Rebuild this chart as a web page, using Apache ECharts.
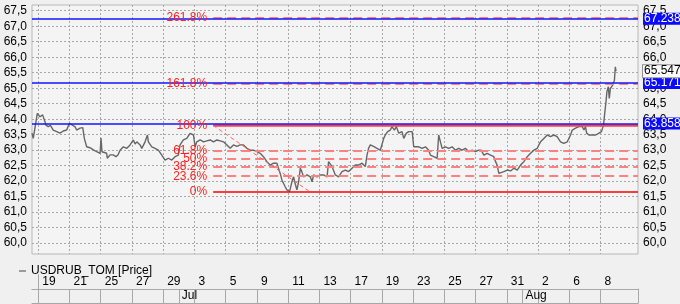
<!DOCTYPE html>
<html><head><meta charset="utf-8">
<script src="https://cdn.jsdelivr.net/npm/echarts@6/dist/echarts.min.js"></script>
<style>html,body{margin:0;padding:0;background:#f0f0f0}#c{width:680px;height:304px}</style>
</head><body><div id="c"></div>
<script>
// time axis: trading-day index (0 = Jun 19)
const dayIdx = [-0.4,-0.32,-0.21,-0.06,0,0.11,0.28,0.43,0.49,0.64,
0.78,0.96,1.18,1.39,1.6,1.82,1.99,2.08,2.21,2.35,
2.46,2.67,2.85,2.95,3.1,3.31,3.53,3.74,3.96,4.02,
4.08,4.38,4.42,4.6,4.79,4.98,5.11,5.24,5.45,5.67,
5.88,6.09,6.2,6.31,6.52,6.63,6.84,6.99,7.05,7.27,
7.48,7.69,7.91,8.12,8.33,8.55,8.76,8.97,9.08,9.29,
9.51,9.72,9.83,9.94,10.04,10.15,10.37,10.58,10.79,11.01,
11.22,11.44,11.65,11.86,12.08,12.29,12.5,12.72,12.93,13.14,
13.36,13.57,13.78,14.0,14.21,14.42,14.64,14.85,15.06,15.28,
15.38,15.49,15.6,15.81,15.92,16.09,16.24,16.35,16.46,16.56,
16.67,16.78,16.88,16.99,17.21,17.42,17.53,17.63,17.85,18.06,
18.27,18.49,18.59,18.7,18.81,19.02,19.23,19.45,19.66,19.87,
20.09,20.3,20.51,20.73,20.94,21.05,21.15,21.26,21.47,21.69,
21.9,22.01,22.12,22.22,22.37,22.54,22.65,22.8,22.93,23.08,
23.19,23.29,23.4,23.57,23.72,23.83,23.94,24.04,24.15,24.36,
24.58,24.79,25.0,25.11,25.32,25.54,25.64,25.75,25.86,26.07,
26.28,26.5,26.71,26.92,27.14,27.35,27.56,27.78,27.99,28.21,
28.36,28.53,28.74,28.96,29.17,29.28,29.38,29.49,29.6,29.81,
30.03,30.24,30.45,30.67,30.88,31.09,31.31,31.52,31.73,31.95,
32.05,32.16,32.37,32.59,32.8,33.01,33.22,33.44,33.65,33.87,
33.97,34.08,34.19,34.4,34.62,34.83,34.94,35.04,35.11,35.26,
35.47,35.69,35.9,36.06,36.19,36.28,36.35,36.41,36.5,36.56,
36.63,36.72,36.78,36.85,36.89,36.95,36.99];
const price = [63.55,63.38,63.44,64.19,64.24,64.08,64.14,63.92,63.81,63.76,
63.8,63.65,63.6,63.55,63.62,63.65,63.87,63.92,63.8,63.76,
63.65,63.71,63.73,63.38,63.11,63.08,63.01,62.95,62.9,63.39,
62.95,62.9,62.74,62.85,62.85,62.79,62.85,63.0,63.11,63.06,
63.17,63.33,63.2,63.27,63.17,63.06,63.27,63.49,63.27,63.11,
63.06,63.0,62.84,62.68,62.74,62.68,62.79,62.84,63.17,63.33,
63.38,63.54,63.6,63.49,63.11,63.27,63.33,63.27,63.3,63.33,
63.27,63.33,63.3,63.27,63.17,63.06,63.17,63.12,63.17,63.17,
63.06,63.0,63.0,62.95,62.9,62.79,62.63,62.52,62.58,62.58,
62.42,62.25,62.04,61.82,61.72,61.66,61.98,62.14,61.9,61.72,
61.98,62.42,62.3,62.14,62.2,62.14,61.98,62.2,62.14,62.2,
62.2,62.14,62.63,62.58,62.47,62.2,62.14,62.31,62.36,62.31,
62.42,62.52,62.52,62.58,62.47,62.84,63.06,63.17,63.12,63.06,
63.0,63.05,63.38,63.49,63.6,63.65,63.76,63.65,63.76,63.55,
63.5,63.6,63.38,63.55,63.6,63.55,63.6,63.11,63.06,63.11,
63.06,63.11,63.0,62.84,62.79,62.74,63.49,63.27,63.06,63.11,
63.06,63.11,63.0,63.06,63.0,63.06,62.95,63.0,62.95,63.0,
63.0,62.84,62.9,62.84,62.79,62.63,62.52,62.25,62.25,62.31,
62.36,62.33,62.42,62.36,62.52,62.63,62.79,62.9,63.0,63.06,
63.17,63.27,63.38,63.49,63.44,63.49,63.44,63.27,63.22,63.27,
63.33,63.49,63.65,63.71,63.76,63.76,63.65,63.76,63.55,63.49,
63.49,63.49,63.55,63.6,63.81,64.24,64.56,64.89,65.05,64.67,
64.99,65.05,65.1,65.16,65.26,65.69,65.55];

const seriesName = 'USDRUB_TOM [Price]';
const xMin = -0.4, xMax = 38.4;
const dayTickIdx = [0,2,4,6,8,10,12,14,16,18,20,22,24,26,28,30,32,34,36];
const dayLabels = ['19','21','25','27','29','3','5','9','11','13','17','19','23','25','27','31','2','6','8'];
const monthTickIdx = [9, 31];
const monthLabels = ['Jul', 'Aug'];
const yMin = 59.65, yMax = 67.685;
const yTicks = [60,60.5,61,61.5,62,62.5,63,63.5,64,64.5,65,65.5,66,66.5,67,67.5];
const levelValues = [67.238, 65.171, 63.858];
const levelLabels = ['67.238', '65.171', '63.858'];
const lastPrice = 65.547;
const lastPriceLabel = '65.547';
const fibNames = ['261.8%','161.8%','100%','61.8%','50%','38.2%','23.6%','0%'];
const fibValues = [67.28, 65.13, 63.80, 62.98, 62.725, 62.47, 62.16, 61.65];
const fibStart = 11.2, fibEnd = 38.4;
const trendFrom = [11.2, 63.80], trendTo = [17.42, 61.65];

const FONT = 'Liberation Sans, Arial, sans-serif';
const txt = {fontFamily: FONT, fontSize: 12, color: '#000'};
const fmtY = v => v.toFixed(1).replace('.', ',');

const fibStyle = name => {
  if (name === '0%') return {color: '#ff0000', width: 1.5, type: 'solid'};
  if (name === '100%') return {color: '#ff4040', width: 2.5, type: 'solid'};
  return {color: '#ff8080', width: 2, type: [9, 5]};
};

const fibData = fibNames.map((n, i) => [
  {name: n, coord: [fibStart, fibValues[i]], lineStyle: fibStyle(n)},
  {coord: [fibEnd, fibValues[i]]}
]);
fibData.push([
  {name: '', coord: trendFrom, lineStyle: {color: '#ff6060', width: 1, type: [4, 3]}, label: {show: false}},
  {coord: trendTo}
]);

const lineAxisGray = {show: true, lineStyle: {color: '#a8a8a8', width: 1}};
const hiddenVal = (grid, pos) => ({gridIndex: grid, type: 'value', position: pos, min: 0, max: 1,
  axisLine: lineAxisGray, axisTick: {show: false}, axisLabel: {show: false}, splitLine: {show: false}});

const chart = echarts.init(document.getElementById('c'), null, {renderer: 'canvas'});
chart.setOption({
  backgroundColor: '#f0f0f0',
  animation: false,
  legend: {
    data: [{name: seriesName, icon: 'rect'}], left: 14, top: 260, itemWidth: 7, itemHeight: 1.5,
    selectedMode: false, textStyle: txt
  },
  grid: [
    {left: 32, right: 42, top: 5, bottom: 50, show: true, backgroundColor: '#f4f4f4', borderColor: '#b8b8b8', borderWidth: 1},
    {left: 32, right: 42, top: 275, height: 14},
    {left: 32, right: 42, top: 289, height: 14}
  ],
  xAxis: [
    {gridIndex: 0, type: 'value', min: xMin, max: xMax, axisLine: {show: false},
     axisTick: {show: false, customValues: dayTickIdx}, axisLabel: {show: false},
     splitLine: {show: true, customValues: dayTickIdx, lineStyle: {color: '#a8a8a8', type: [2, 2], width: 1}}},
    {gridIndex: 1, type: 'value', position: 'top', min: xMin, max: xMax, axisLine: lineAxisGray,
     axisTick: {show: true, inside: true, length: 14, customValues: dayTickIdx, lineStyle: {color: '#a8a8a8'}},
     axisLabel: Object.assign({show: true, inside: true, customValues: dayTickIdx, align: 'left', margin: 1,
       padding: [0, 0, 0, 4], formatter: v => dayLabels[dayTickIdx.indexOf(v)]}, txt),
     splitLine: {show: false}},
    {gridIndex: 1, type: 'value', position: 'bottom', min: xMin, max: xMax, axisLine: lineAxisGray,
     axisTick: {show: false}, axisLabel: {show: false}, splitLine: {show: false}},
    {gridIndex: 2, type: 'value', position: 'bottom', min: xMin, max: xMax, axisLine: lineAxisGray,
     axisTick: {show: true, inside: true, length: 14, customValues: monthTickIdx, lineStyle: {color: '#a8a8a8'}},
     axisLabel: Object.assign({show: true, inside: true, customValues: monthTickIdx, align: 'left', margin: 1,
       padding: [0, 0, 0, 3], formatter: v => monthLabels[monthTickIdx.indexOf(v)]}, txt),
     splitLine: {show: false}}
  ],
  yAxis: [
    {gridIndex: 0, type: 'value', position: 'left', min: yMin, max: yMax, axisLine: {show: false},
     axisTick: {show: false, customValues: yTicks},
     axisLabel: Object.assign({customValues: yTicks, margin: 5, formatter: fmtY}, txt),
     splitLine: {show: true, customValues: yTicks, lineStyle: {color: '#a8a8a8', type: [2, 2], width: 1}}},
    {gridIndex: 0, type: 'value', position: 'right', min: yMin, max: yMax, axisLine: {show: false},
     axisTick: {show: false, customValues: yTicks},
     axisLabel: Object.assign({customValues: yTicks, margin: 5, formatter: fmtY}, txt),
     splitLine: {show: false}},
    hiddenVal(1, 'left'), hiddenVal(1, 'right'), hiddenVal(2, 'left'), hiddenVal(2, 'right')
  ],
  series: [
    {type: 'line', name: 'fib', xAxisIndex: 0, yAxisIndex: 0, data: [], z: 2,
     markLine: {silent: true, symbol: 'none', animation: false,
       label: {show: true, position: 'start', distance: 6, formatter: '{b}', color: '#ff2020', fontFamily: FONT, fontSize: 12},
       data: fibData}},
    {type: 'line', name: seriesName, xAxisIndex: 0, yAxisIndex: 0, z: 3,
     data: dayIdx.map((d, i) => [d, price[i]]), showSymbol: false, symbol: 'none',
     lineStyle: {color: '#666666', width: 1.4}, itemStyle: {color: '#808080'}},
    {type: 'line', name: 'levels', xAxisIndex: 0, yAxisIndex: 0, data: [], z: 5,
     markLine: {silent: true, symbol: 'none', animation: false,
       lineStyle: {color: '#1414ff', width: 1.5, type: 'solid'},
       label: {show: true, position: 'end', distance: 5, formatter: '{b}',
         backgroundColor: '#0a0aff', color: '#fff', padding: [1, 1, 0, 1], lineHeight: 11, fontFamily: FONT, fontSize: 12},
       data: levelValues.map((v, i) => ({yAxis: v, name: levelLabels[i]}))}},
    {type: 'line', name: 'last', xAxisIndex: 0, yAxisIndex: 0, data: [], z: 6,
     markLine: {silent: true, symbol: 'none', animation: false,
       lineStyle: {color: 'rgba(0,0,0,0)', width: 1, type: 'solid'},
       label: {show: true, position: 'end', distance: 5, formatter: '{b}',
         backgroundColor: '#fafafa', borderColor: '#909090', borderWidth: 1, color: '#000',
         padding: [1, 1, 0, 1], lineHeight: 11, fontFamily: FONT, fontSize: 12},
       data: [{yAxis: lastPrice, name: lastPriceLabel}]}}
  ]
});
</script></body></html>
